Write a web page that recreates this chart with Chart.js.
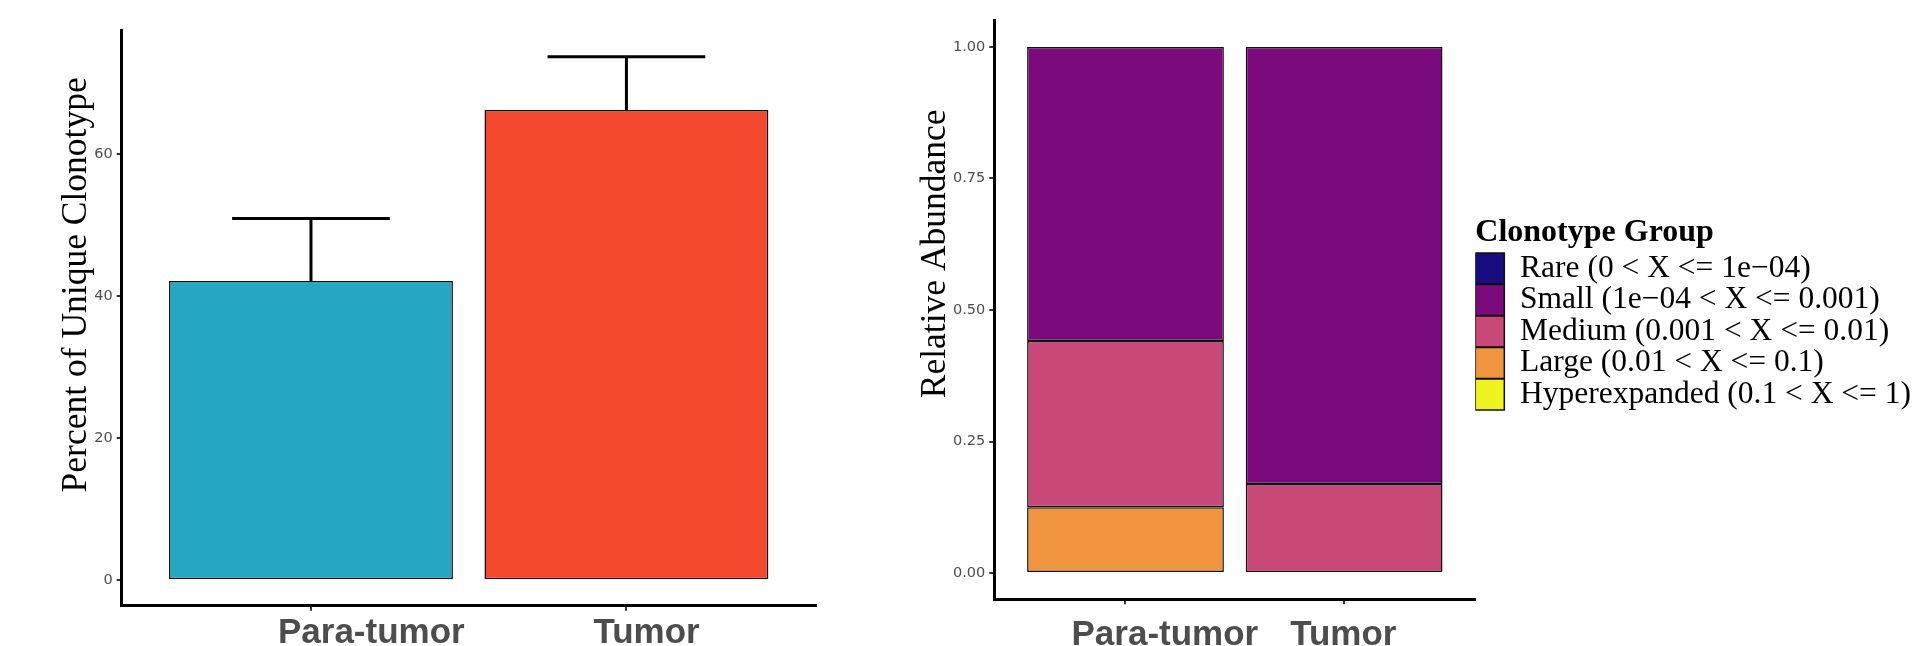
<!DOCTYPE html>
<html>
<head>
<meta charset="utf-8">
<script src="https://cdn.jsdelivr.net/npm/chart.js@4.4.1/dist/chart.umd.min.js"></script>
<style>
    body { margin: 0; background: #ffffff; }
    .wrap { position: relative; width: 1923px; height: 646px; overflow: hidden; }
    #left { position: absolute; left: 0; top: 0; }
    #right { position: absolute; left: 850px; top: 0; }
</style>
</head>
<body>
<div class="wrap">
    <canvas id="left" width="850" height="646"></canvas>
    <canvas id="right" width="1073" height="646"></canvas>
</div>
<script>
// data
const categories = ["Para-tumor", "Tumor"];
const barColors = ["#25A6C3", "#F4482F"];
const percentValues = [42.1, 66.2];
const percentErrors = [8.8, 7.5];
const percentTicks = [0, 20, 40, 60];

const groupLabels = [
    "Rare (0 < X <= 1e\u221204)",
    "Small (1e\u221204 < X <= 0.001)",
    "Medium (0.001 < X <= 0.01)",
    "Large (0.01 < X <= 0.1)",
    "Hyperexpanded (0.1 < X <= 1)"
];
const groupColors = ["#180C80", "#7B0A7D", "#C84877", "#F09440", "#EFF321"];
const rareValues = [0, 0];
const smallValues = [0.559, 0.831];
const mediumValues = [0.316, 0.169];
const largeValues = [0.125, 0];
const hyperValues = [0, 0];
const abundanceTicks = [0, 0.25, 0.5, 0.75, 1];

const TICK_GRAY = "#4d4d4d";

// -----------------------------
// small plugins
// -----------------------------
const yTitle = {
    id: "yTitle",
    afterDraw(chart, args, opts) {
        const { ctx, chartArea } = chart;
        ctx.save();
        ctx.translate(opts.x, chartArea.top + opts.at * (chartArea.bottom - chartArea.top));
        ctx.rotate(-Math.PI / 2);
        ctx.font = '35.5px "Liberation Serif"';
        ctx.fillStyle = "#000";
        ctx.textAlign = "center";
        ctx.textBaseline = "alphabetic";
        ctx.fillText(opts.text, 0, 0);
        ctx.restore();
    }
};

const errorBars = {
    id: "errorBars",
    afterDatasetsDraw(chart) {
        const { ctx, scales: { x, y } } = chart;
        ctx.save();
        ctx.strokeStyle = "#000";
        ctx.lineWidth = 3;
        percentValues.forEach((v, i) => {
            const cx = x.getPixelForValue(i + 1);
            const half = x.getPixelForValue(i + 1.25) - cx;
            const top = y.getPixelForValue(v + percentErrors[i]);
            const base = y.getPixelForValue(v);
            ctx.beginPath();
            ctx.moveTo(cx, base);
            ctx.lineTo(cx, top);
            ctx.moveTo(cx - half, top);
            ctx.lineTo(cx + half, top);
            ctx.stroke();
        });
        ctx.restore();
    }
};

function xAxis(height, offset, pad) {
    return {
        type: "linear",
        min: 0.4,
        max: 2.6,
        offset: false,
        stacked: true,
        afterBuildTicks: s => { s.ticks = categories.map((c, i) => ({ value: i + 1 })); },
        afterFit: s => { s.height = height; },
        border: { display: true, color: "#000", width: 3 },
        grid: { display: true, offset: false, drawOnChartArea: false, drawTicks: true, tickLength: 5, color: "#333", lineWidth: 2 },
        ticks: {
            align: "start",
            autoSkip: false,
            labelOffset: offset,
            padding: pad,
            maxRotation: 0,
            color: TICK_GRAY,
            font: { family: "Liberation Sans", size: 35, weight: "bold" },
            callback: v => categories[v - 1]
        }
    };
}

function yAxis(width, min, max, ticks, fmt) {
    return {
        type: "linear",
        min: min,
        max: max,
        stacked: true,
        afterBuildTicks: s => { s.ticks = ticks.map(v => ({ value: v })); },
        afterFit: s => { s.width = width; },
        border: { display: true, color: "#000", width: 3 },
        grid: { display: true, drawOnChartArea: false, drawTicks: true, tickLength: 5, color: "#333", lineWidth: 2 },
        ticks: {
            padding: 4,
            color: TICK_GRAY,
            font: { family: "DejaVu Sans", size: 14.5 },
            callback: fmt
        }
    };
}

// -----------------------------
// LEFT: percent of unique clonotype
// -----------------------------
new Chart(document.getElementById("left"), {
    type: "bar",
    data: {
        datasets: [{
            data: categories.map((c, i) => ({ x: i + 1, y: percentValues[i] })),
            backgroundColor: barColors,
            borderColor: "#111",
            borderWidth: 1.5,
            borderSkipped: false,
            barPercentage: 0.9,
            categoryPercentage: 1
        }]
    },
    options: {
        responsive: false,
        animation: false,
        layout: { padding: { top: 30.7, right: 34.3, bottom: 0, left: 0 } },
        plugins: {
            legend: { display: false },
            tooltip: { enabled: false },
            yTitle: { text: "Percent of Unique Clonotype", x: 86, at: 0.442 }
        },
        scales: {
            x: xAxis(40.3, -33, 2),
            y: yAxis(121.7, -3.6, 77.35, percentTicks, v => String(v))
        }
    },
    plugins: [yTitle, errorBars]
});

// -----------------------------
// RIGHT: relative abundance
// -----------------------------
const groupValues = [rareValues, smallValues, mediumValues, largeValues, hyperValues];
const stacked = groupLabels.map((label, g) => ({
    label: label,
    data: categories.map((c, i) => ({ x: i + 1, y: groupValues[g][i] })),
    backgroundColor: groupColors[g],
    borderColor: "#111",
    borderWidth: 1.5,
    borderSkipped: false,
    barPercentage: 0.9,
    categoryPercentage: 1
})).reverse(); // bottom of the stack first

new Chart(document.getElementById("right"), {
    type: "bar",
    data: { datasets: stacked },
    options: {
        responsive: false,
        animation: false,
        layout: { padding: { top: 20.7, right: 2, bottom: 0, left: 0 } },
        plugins: {
            tooltip: { enabled: false },
            legend: {
                position: "right",
                align: "start",
                reverse: true,
                maxWidth: 470,
                title: {
                    display: true,
                    text: "Clonotype Group",
                    position: "start",
                    color: "#000",
                    padding: { top: 196, bottom: 4 },
                    font: { family: "Liberation Serif", size: 32, weight: "bold", lineHeight: 1 }
                },
                labels: {
                    boxWidth: 29,
                    boxHeight: 31,
                    padding: 0,
                    color: "#000",
                    font: { family: "Liberation Serif", size: 31.5 }
                }
            },
            yTitle: { text: "Relative Abundance", x: 95, at: 0.403 }
        },
        scales: {
            x: xAxis(46.7, -54, 10),
            y: yAxis(144.3, -0.05, 1.05, abundanceTicks, v => v.toFixed(2))
        }
    },
    plugins: [yTitle]
});
</script>
</body>
</html>
